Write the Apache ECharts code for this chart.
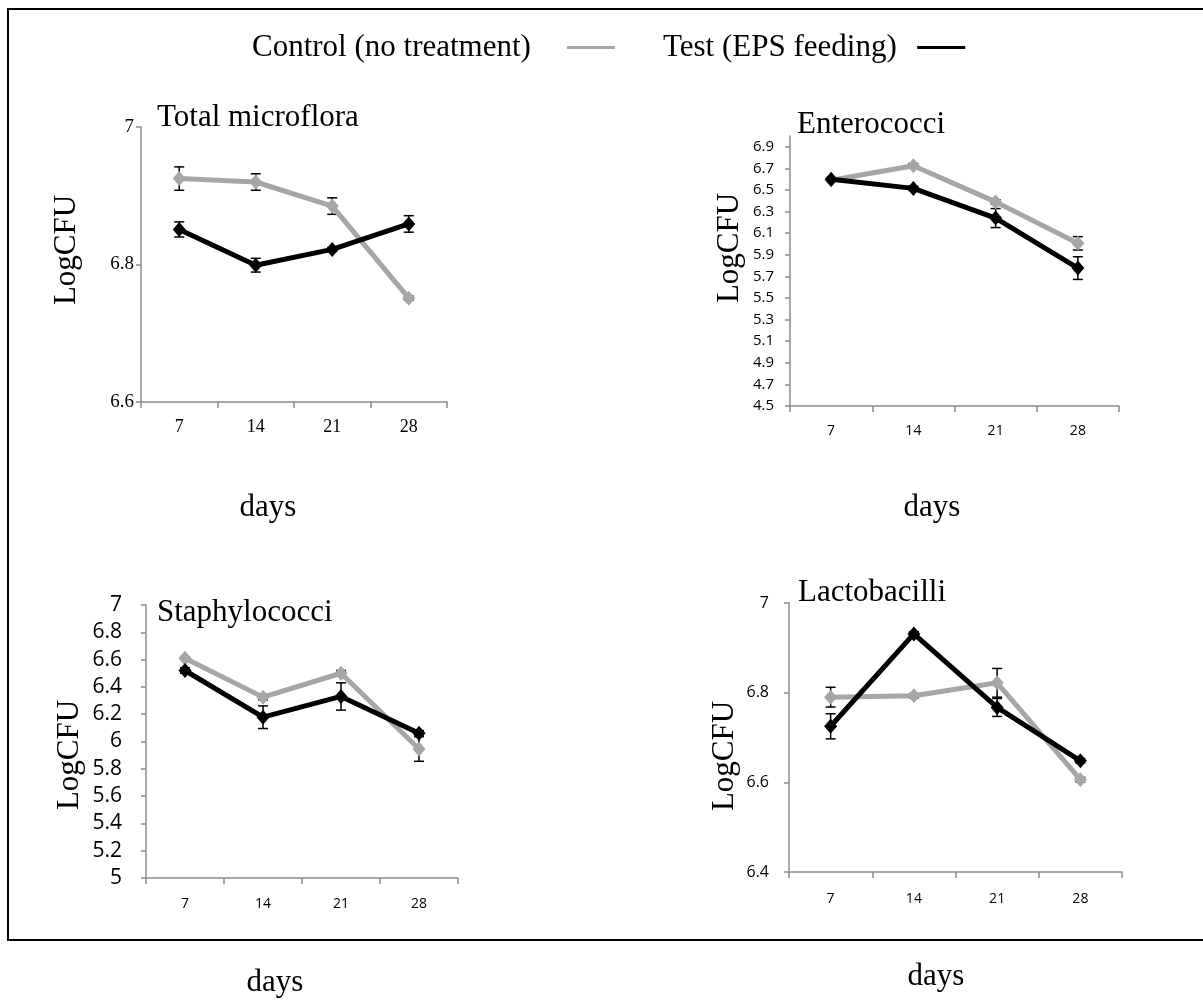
<!DOCTYPE html>
<html>
<head>
<meta charset="utf-8">
<script src="https://cdn.jsdelivr.net/npm/echarts@6/dist/echarts.min.js"></script>
<style>
html,body{margin:0;padding:0;background:#fff;}
#chart{width:1203px;height:1003px;}
</style>
</head>
<body>
<div id="chart"></div>
<script>
// ---- data ----
const days = ['7', '14', '21', '28'];
const seriesNames = ['Control (no treatment)', 'Test (EPS feeding)'];
const panelTitles = ['Total microflora', 'Enterococci', 'Staphylococci', 'Lactobacilli'];
const yAxisName = 'LogCFU';
const xAxisName = 'days';

const totalControl = [6.925, 6.920, 6.885, 6.751];
const totalControlErr = [0.017, 0.012, 0.012, 0.003];
const totalTest = [6.851, 6.799, 6.822, 6.859];
const totalTestErr = [0.011, 0.010, 0.003, 0.012];

const enteroControl = [6.59, 6.725, 6.39, 6.006];
const enteroControlErr = [0.01, 0.02, 0.02, 0.062];
const enteroTest = [6.60, 6.515, 6.240, 5.777];
const enteroTestErr = [0.01, 0.02, 0.088, 0.105];

const staphControl = [6.61, 6.325, 6.50, 5.945];
const staphControlErr = [0.01, 0.02, 0.02, 0.09];
const staphTest = [6.52, 6.178, 6.33, 6.06];
const staphTestErr = [0.02, 0.083, 0.10, 0.02];

const lactoControl = [6.79, 6.793, 6.822, 6.606];
const lactoControlErr = [0.022, 0.005, 0.032, 0.005];
const lactoTest = [6.725, 6.931, 6.767, 6.648];
const lactoTestErr = [0.028, 0.005, 0.02, 0.005];

// axis ranges [min, max, interval]
const totalAxis = [6.6, 7, 0.2];
const enteroAxis = [4.5, 7.0, 0.2];
const staphAxis = [5, 7, 0.2];
const lactoAxis = [6.4, 7, 0.2];

// ---- styles / layout ----
const SERIF = '"Liberation Serif", "Times New Roman", serif';
const SANS = '"Open Sans", "Noto Sans", sans-serif';
const GRAY = '#A6A6A6';
const AXIS = '#8C8C8C';

const panels = [
  {grid:{left:141, top:127, width:306, height:275}, axis:totalAxis, c:totalControl, ce:totalControlErr, t:totalTest, te:totalTestErr,
   yFont:SERIF, ySize:19, yMargin:7, xFont:SERIF, xSize:18, xMargin:16, dec:false,
   title:[157,118], ylab:[67,250], xlab:[268,508]},
  {grid:{left:790, top:136, width:329, height:270}, axis:enteroAxis, c:enteroControl, ce:enteroControlErr, t:enteroTest, te:enteroTestErr,
   yFont:SANS, ySize:15, yMargin:16, xFont:SANS, xSize:14, xMargin:18, dec:true,
   title:[797,125], ylab:[730,248], xlab:[932,508]},
  {grid:{left:146, top:605, width:312, height:273}, axis:staphAxis, c:staphControl, ce:staphControlErr, t:staphTest, te:staphTestErr,
   yFont:SANS, ySize:21, yMargin:24, xFont:SANS, xSize:14, xMargin:19, dec:false,
   title:[157,613], ylab:[70,755], xlab:[275,983]},
  {grid:{left:789, top:603, width:333, height:269}, axis:lactoAxis, c:lactoControl, ce:lactoControlErr, t:lactoTest, te:lactoTestErr,
   yFont:SANS, ySize:16, yMargin:20, xFont:SANS, xSize:14, xMargin:20, dec:false,
   title:[798,593], ylab:[725,756], xlab:[936,977]}
];

function errRender(params, api) {
  const x = api.value(0);
  const lo = api.coord([x, api.value(1)]);
  const hi = api.coord([x, api.value(2)]);
  const w = 5;
  const st = {stroke:'#000', lineWidth:1.5};
  return {type:'group', children:[
    {type:'line', shape:{x1:lo[0], y1:lo[1], x2:hi[0], y2:hi[1]}, style:st},
    {type:'line', shape:{x1:lo[0]-w, y1:lo[1], x2:lo[0]+w, y2:lo[1]}, style:st},
    {type:'line', shape:{x1:hi[0]-w, y1:hi[1], x2:hi[0]+w, y2:hi[1]}, style:st}
  ]};
}

const grids = [], xAxes = [], yAxes = [], series = [], graphics = [];

graphics.push({type:'rect', shape:{x:8, y:9, width:1210, height:931}, style:{fill:'none', stroke:'#000', lineWidth:2}, z:0});

panels.forEach((p, i) => {
  grids.push(p.grid);
  xAxes.push({
    type:'category', gridIndex:i, data:days, boundaryGap:true,
    axisLine:{show:true, lineStyle:{color:AXIS, width:1.5}},
    axisTick:{show:true, length:6, lineStyle:{color:AXIS, width:1.5}},
    axisLabel:{color:'#000', fontFamily:p.xFont, fontSize:p.xSize, margin:p.xMargin},
    splitLine:{show:false}
  });
  yAxes.push({
    type:'value', gridIndex:i, min:p.axis[0], max:p.axis[1], interval:p.axis[2],
    axisLine:{show:true, lineStyle:{color:AXIS, width:1.5}},
    axisTick:{show:true, length:5, lineStyle:{color:AXIS, width:1.5}},
    axisLabel:{color:'#000', fontFamily:p.yFont, fontSize:p.ySize, margin:p.yMargin, showMaxLabel: !p.dec,
      formatter: p.dec ? (v => v.toFixed(1)) : (v => String(Math.round(v*10)/10))},
    splitLine:{show:false}
  });
  const mkErr = (vals, errs) => vals.map((v, k) => [k, v - errs[k], v + errs[k]]);
  series.push({type:'custom', name:'errC'+i, xAxisIndex:i, yAxisIndex:i, renderItem:errRender,
    data:mkErr(p.c, p.ce), encode:{x:0, y:[1,2]}, z:1, silent:true});
  series.push({type:'custom', name:'errT'+i, xAxisIndex:i, yAxisIndex:i, renderItem:errRender,
    data:mkErr(p.t, p.te), encode:{x:0, y:[1,2]}, z:1, silent:true});
  series.push({type:'line', name:seriesNames[0], xAxisIndex:i, yAxisIndex:i, data:p.c,
    symbol:'diamond', symbolSize:[13,15], showSymbol:true, z:2,
    lineStyle:{color:GRAY, width:5}, itemStyle:{color:GRAY}, animation:false});
  series.push({type:'line', name:seriesNames[1], xAxisIndex:i, yAxisIndex:i, data:p.t,
    symbol:'diamond', symbolSize:[13,15], showSymbol:true, z:3,
    lineStyle:{color:'#000', width:5}, itemStyle:{color:'#000'}, animation:false});

  graphics.push({type:'text', x:p.title[0], y:p.title[1], style:{text:panelTitles[i], font:'31px ' + SERIF, fill:'#000', textAlign:'left', textVerticalAlign:'middle'}});
  graphics.push({type:'text', x:p.ylab[0], y:p.ylab[1], rotation:Math.PI/2, style:{text:yAxisName, font:'31px ' + SERIF, fill:'#000', textAlign:'center', textVerticalAlign:'middle'}});
  graphics.push({type:'text', x:p.xlab[0], y:p.xlab[1], style:{text:xAxisName, font:'31px ' + SERIF, fill:'#000', textAlign:'center', textVerticalAlign:'middle'}});
});

const legendBase = {
  orient:'horizontal', align:'right', icon:'rect', itemWidth:48, itemHeight:3,
  selectedMode:false, textStyle:{fontFamily:SERIF, fontSize:31, color:'#000'}
};

const option = {
  animation:false,
  backgroundColor:'#fff',
  legend:[
    Object.assign({}, legendBase, {data:[seriesNames[0]], left:247, top:27, formatter: n => n + '    '}),
    Object.assign({}, legendBase, {data:[seriesNames[1]], left:658, top:27, formatter: n => n + '  '})
  ],
  grid:grids, xAxis:xAxes, yAxis:yAxes, series:series,
  graphic:graphics
};

const chart = echarts.init(document.getElementById('chart'), null, {renderer:'canvas'});
chart.setOption(option);
</script>
</body>
</html>
